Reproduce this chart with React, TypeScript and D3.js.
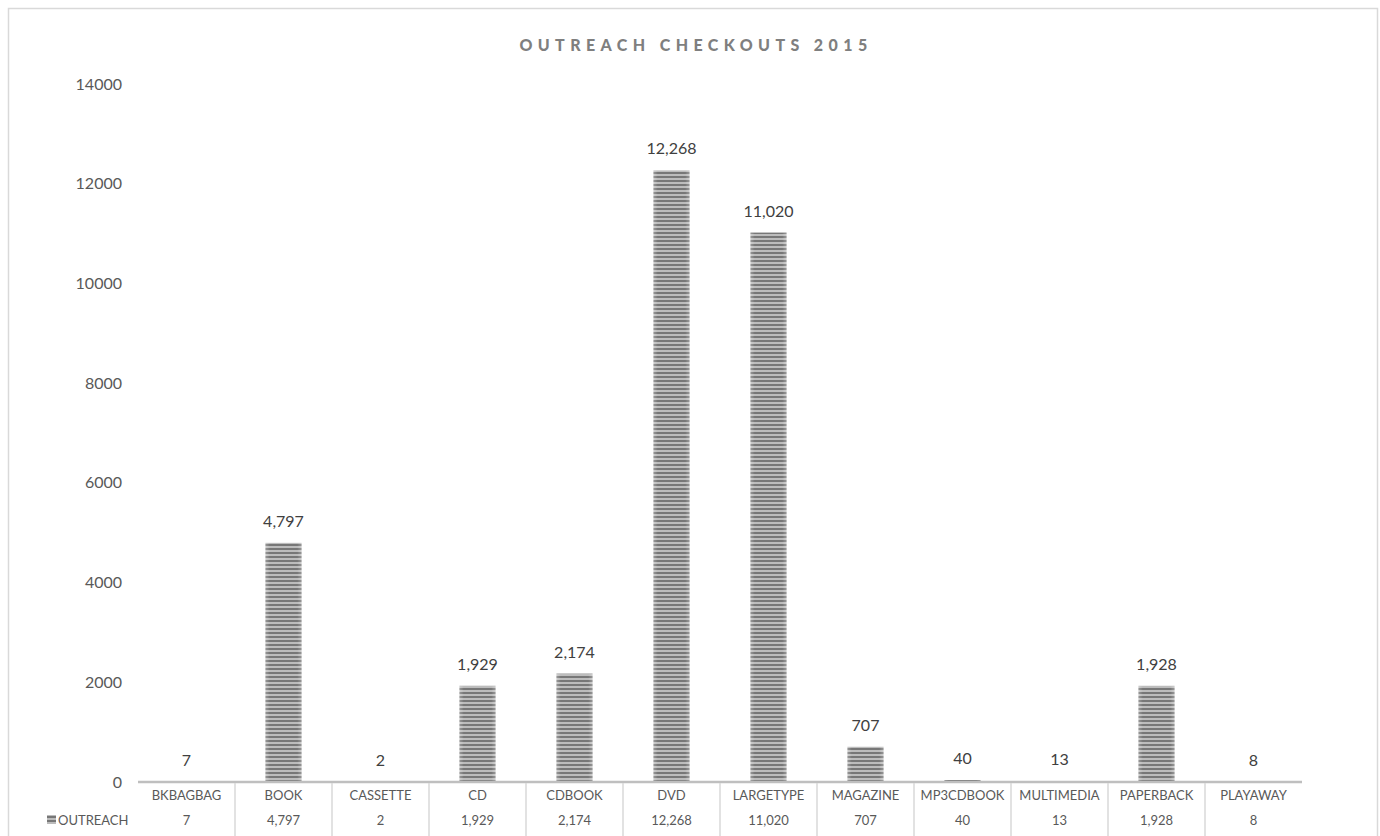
import React from "react";
import * as d3 from "d3";

const categories = ["BKBAGBAG","BOOK","CASSETTE","CD","CDBOOK","DVD","LARGETYPE","MAGAZINE","MP3CDBOOK","MULTIMEDIA","PAPERBACK","PLAYAWAY"];
const outreach = [7,4797,2,1929,2174,12268,11020,707,40,13,1928,8];
const yTicks = [0,2000,4000,6000,8000,10000,12000,14000];
const seriesName = "OUTREACH";
const title = "OUTREACH CHECKOUTS 2015";

const W = 1380, H = 836;
const font = "Lato, 'Open Sans', sans-serif";

export default function App() {
  const x = d3.scaleBand<string>().domain(categories).range([138, 1302]).padding(0);
  const y = d3.scaleLinear().domain([0, 14000]).range([782, 84]);
  const bw = x.bandwidth() * 0.372;
  const fmt = d3.format(",");
  const data = categories.map((c, i) => ({ c, v: outreach[i] }));
  return (
    <svg width={W} height={H} style={{ position: "absolute", left: 0, top: 0, background: "#fff" }}>
      <defs>
        <pattern id="stripes" patternUnits="userSpaceOnUse" width={8} height={4}>
          <rect x={0} y={0} width={8} height={4} fill="#bcbcbc" />
          <rect x={0} y={0} width={8} height={2} fill="#777777" />
        </pattern>
        <linearGradient id="edge" x1="0" x2="1" y1="0" y2="0">
          <stop offset="0" stopColor="#fff" stopOpacity={0.25} />
          <stop offset="0.12" stopColor="#fff" stopOpacity={0} />
          <stop offset="0.88" stopColor="#fff" stopOpacity={0} />
          <stop offset="1" stopColor="#fff" stopOpacity={0.25} />
        </linearGradient>
      </defs>
      <rect x={8.5} y={8.5} width={1369} height={840} fill="#fff" stroke="#d9d9d9" strokeWidth={1.5} />
      <text x={696} y={51} textAnchor="middle" fontFamily={font} fontWeight={900} fontSize={16} letterSpacing={5.4} fill="#7f7f7f">{title}</text>
      {yTicks.map(t => (
        <text key={t} x={122} y={y(t)} dy="0.35em" textAnchor="end" fontFamily={font} fontSize={16} fill="#595959">{t}</text>
      ))}
      {data.map(d => {
        const cx = (x(d.c) as number) + x.bandwidth() / 2;
        return (
          <g key={d.c}>
            {d.v > 0 && (
              <>
                <rect x={cx - bw / 2} y={y(d.v)} width={bw} height={782 - y(d.v)} fill="url(#stripes)" />
                <rect x={cx - bw / 2} y={y(d.v)} width={bw} height={782 - y(d.v)} fill="url(#edge)" />
              </>
            )}
            <text x={cx} y={y(d.v) - 16} textAnchor="middle" fontFamily={font} fontSize={16} fill="#404040">{fmt(d.v)}</text>
            <text x={cx} y={800} textAnchor="middle" fontFamily={font} fontSize={13} fill="#595959">{d.c}</text>
            <text x={cx} y={825} textAnchor="middle" fontFamily={font} fontSize={13} fill="#595959">{fmt(d.v)}</text>
          </g>
        );
      })}
      <line x1={138} x2={1302} y1={782} y2={782} stroke="#bfbfbf" strokeWidth={2.5} />
      {categories.slice(1).map(c => (
        <line key={c} x1={x(c) as number} x2={x(c) as number} y1={783} y2={836} stroke="#d9d9d9" strokeWidth={1.5} />
      ))}
      <rect x={47} y={815} width={9} height={9} fill="url(#stripes)" />
      <text x={58} y={825} fontFamily={font} fontSize={13} fill="#595959">{seriesName}</text>
    </svg>
  );
}
